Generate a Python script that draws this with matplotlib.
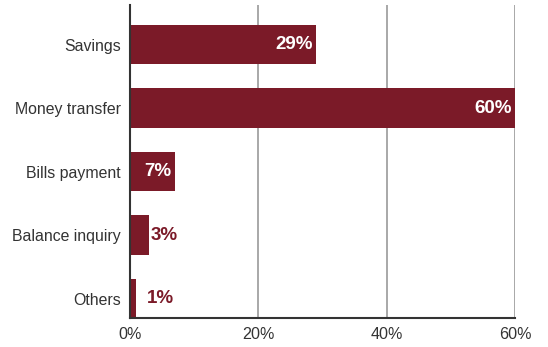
import matplotlib
matplotlib.use("Agg")
import matplotlib.pyplot as plt

categories = ["Savings", "Money transfer", "Bills payment", "Balance inquiry", "Others"]
values = [29, 60, 7, 3, 1]
xticks = [0, 20, 40, 60]
xticklabels = ["0%", "20%", "40%", "60%"]

plt.rcParams['font.family'] = ['Liberation Sans', 'DejaVu Sans']
bar_color = "#7B1A28"

fig = plt.figure(figsize=(5.48, 3.47), dpi=100)
ax = fig.add_axes([0.237, 0.083, 0.703, 0.902])

ypos = list(range(len(categories)))
ax.barh(ypos, values, height=0.62, color=bar_color, zorder=3)
ax.set_ylim(4.31, -0.62)
ax.set_xlim(0, 60)
ax.set_yticks(ypos)
ax.set_yticklabels(categories, fontsize=11.4, color="#333333")
ax.set_xticks(xticks)
ax.set_xticklabels(xticklabels, fontsize=11.6, color="#333333")
ax.tick_params(length=0, pad=6.5)
ax.tick_params(axis="x", pad=6)
ax.xaxis.grid(True, color="#999999", linewidth=1.2, zorder=0)
for s in ["top", "right"]:
    ax.spines[s].set_visible(False)
for s in ["left", "bottom"]:
    ax.spines[s].set_color("#333333")
    ax.spines[s].set_linewidth(1.5)
    ax.spines[s].set_zorder(4)

for y, v in zip(ypos, values):
    if v >= 5:
        ax.text(v - 0.5, y, f"{v}%", ha="right", va="center", color="white",
                fontsize=13.5, fontweight="bold", zorder=5)
    else:
        ax.text(v + 0.2 if v > 1 else v + 1.7, y, f"{v}%", ha="left", va="center", color=bar_color,
                fontsize=13.5, fontweight="bold", zorder=5)

fig.savefig("out.png", dpi=100)
